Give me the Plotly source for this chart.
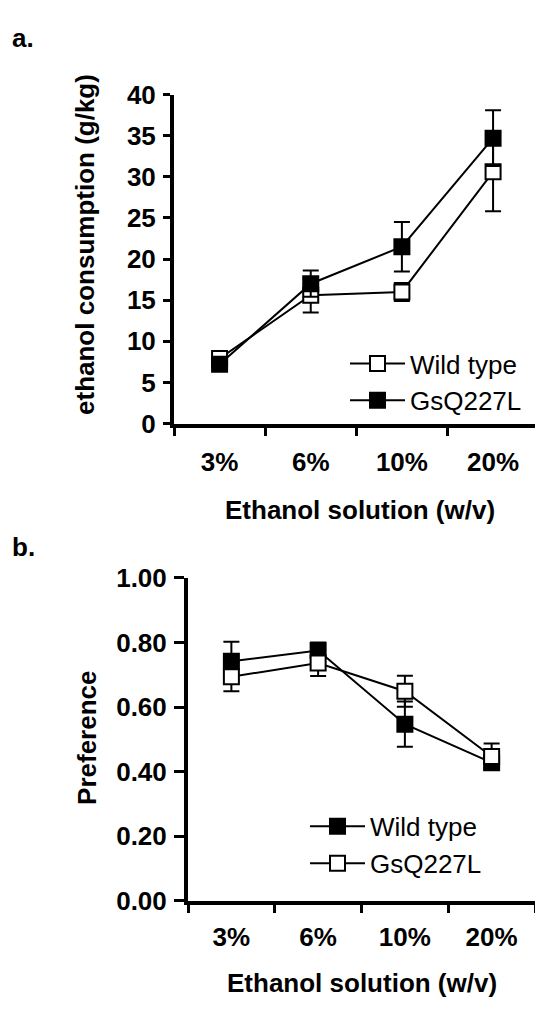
import plotly.graph_objects as go

categories = ["3%", "6%", "10%", "20%"]

# Panel a: ethanol consumption (g/kg)
a_wt = [7.9, 15.6, 16.0, 30.6]
a_wt_err = [0.4, 2.1, 1.1, 4.8]
a_gs = [7.2, 17.0, 21.5, 34.7]
a_gs_err = [0.4, 1.6, 3.0, 3.4]

# Panel b: preference
b_wt = [0.742, 0.775, 0.547, 0.428]
b_wt_err = [0.06, 0.025, 0.07, 0.015]
b_gs = [0.694, 0.736, 0.649, 0.447]
b_gs_err = [0.045, 0.04, 0.048, 0.04]

W, H = 535, 1012
FONT = "Liberation Sans"
FS = 26

def py(pix):
    return 1 - pix / H

def px(pix):
    return pix / W

fig = go.Figure()

def add_series(x, y, err, filled, name, xa, ya, legend):
    fig.add_trace(go.Scatter(
        x=x, y=y, name=name, mode="lines+markers",
        xaxis=xa, yaxis=ya, legend=legend,
        line=dict(color="black", width=2),
        marker=dict(symbol="square", size=15,
                    color="black" if filled else "white",
                    line=dict(color="black", width=2)),
        error_y=dict(type="data", array=err, visible=True,
                     color="black", thickness=2, width=8),
        cliponaxis=False,
    ))

add_series(categories, a_wt, a_wt_err, False, "Wild type", "x", "y", "legend")
add_series(categories, a_gs, a_gs_err, True, "GsQ227L", "x", "y", "legend")
add_series(categories, b_wt, b_wt_err, True, "Wild type", "x2", "y2", "legend2")
add_series(categories, b_gs, b_gs_err, False, "GsQ227L", "x2", "y2", "legend2")

tickfont = dict(family=FONT, size=FS, color="black", weight="bold")
axis_common = dict(showline=True, linewidth=4, linecolor="black",
                   ticks="outside", tickwidth=3, tickcolor="black",
                   showgrid=False, zeroline=False, tickfont=tickfont)

fig.update_layout(
    width=W, height=H,
    margin=dict(l=0, r=0, t=0, b=0),
    paper_bgcolor="white", plot_bgcolor="white",
    showlegend=True,
    xaxis=dict(domain=[px(174), 1], anchor="y", type="category",
               range=[-0.5, 3.46], tickson="boundaries", ticklen=8,
               ticklabelstandoff=12, **axis_common),
    yaxis=dict(domain=[py(421), py(82)], anchor="x", range=[0, 40],
               dtick=5, ticklen=7, ticklabelstandoff=2, **axis_common),
    xaxis2=dict(domain=[px(188), 1], anchor="y2", type="category",
                range=[-0.5, 3.5], tickson="boundaries", ticklen=8,
                ticklabelstandoff=10, **axis_common),
    yaxis2=dict(domain=[py(913), py(580)], anchor="x2", range=[0, 1],
                dtick=0.2, tickformat=".2f", ticklen=10,
                ticklabelstandoff=2, **axis_common),
    legend=dict(x=px(345), y=py(335), xanchor="left", yanchor="top",
                bgcolor="rgba(0,0,0,0)", itemwidth=55,
                font=dict(family=FONT, size=FS, color="black")),
    legend2=dict(x=px(305), y=py(812), xanchor="left", yanchor="top",
                 bgcolor="rgba(0,0,0,0)", itemwidth=55,
                 font=dict(family=FONT, size=FS, color="black")),
)

title_font = dict(family=FONT, size=FS, color="black", weight="bold")
annos = [
    dict(text="a.", x=px(10), y=py(24), xanchor="left", yanchor="middle"),
    dict(text="b.", x=px(10), y=py(548), xanchor="left", yanchor="middle"),
    dict(text="ethanol consumption (g/kg)", x=px(85), y=py(237),
         xanchor="center", yanchor="middle", textangle=-90),
    dict(text="Preference", x=px(87), y=py(745),
         xanchor="center", yanchor="middle", textangle=-90),
    dict(text="Ethanol solution (w/v)", x=px(360), y=py(510),
         xanchor="center", yanchor="middle"),
    dict(text="Ethanol solution (w/v)", x=px(362), y=py(998),
         xanchor="center", yanchor="middle"),
]
for a in annos:
    fig.add_annotation(xref="paper", yref="paper", showarrow=False,
                       font=title_font, **a)

fig.write_html("out.html")
